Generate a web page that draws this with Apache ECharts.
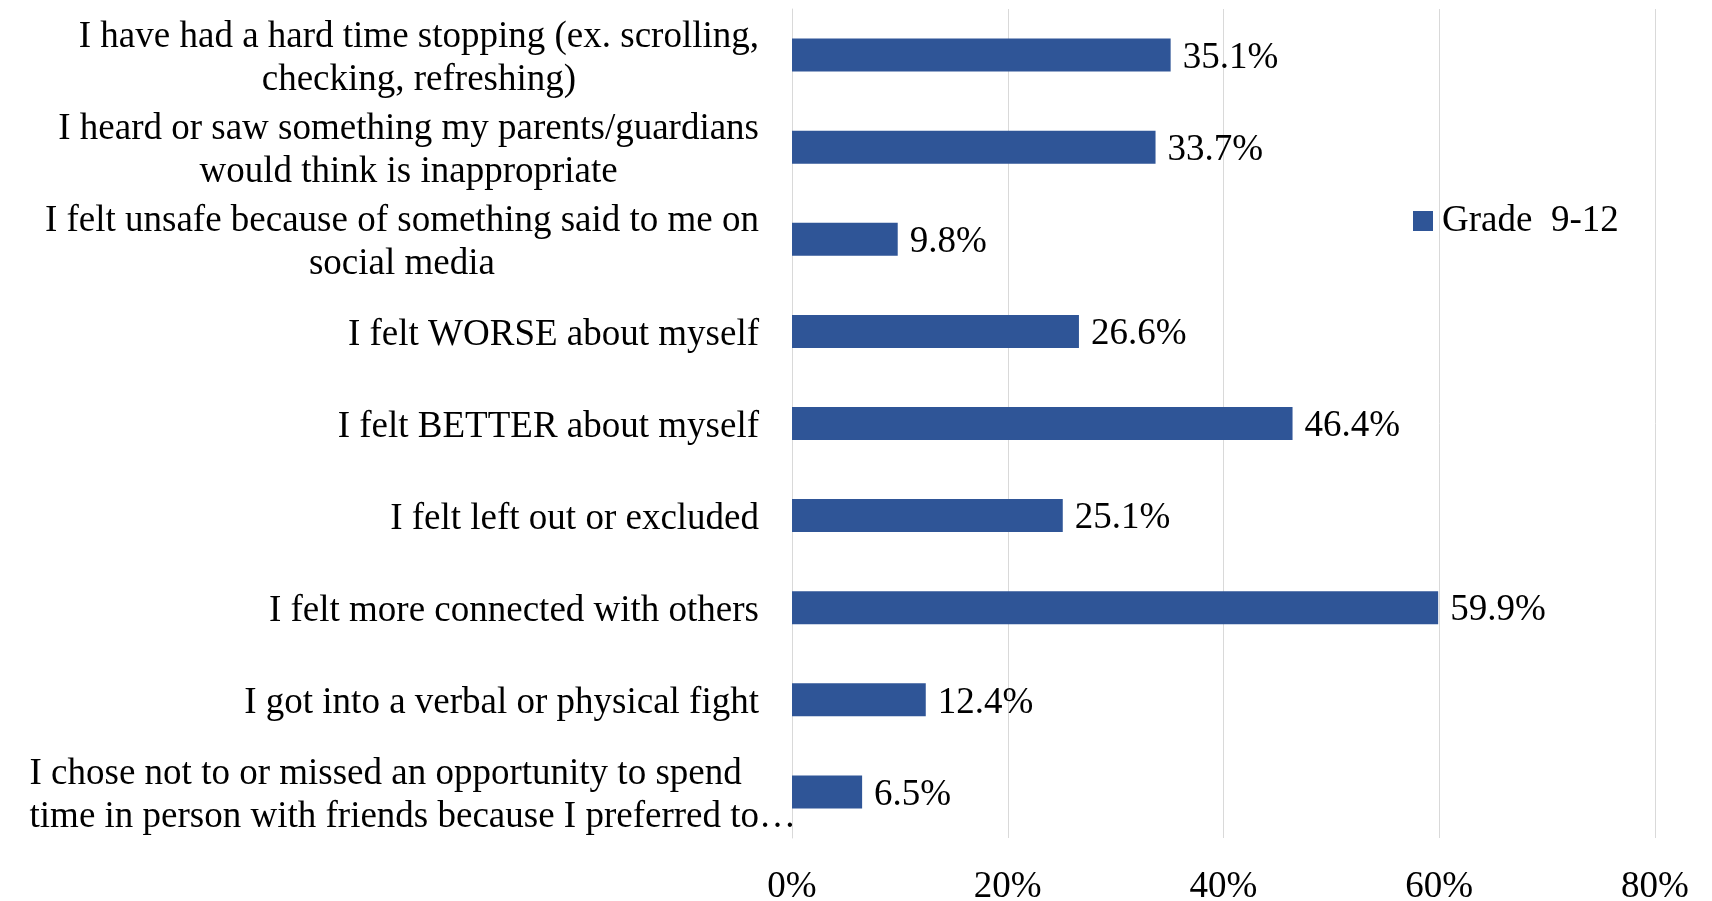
<!DOCTYPE html>
<html>
<head>
<meta charset="utf-8">
<title>Social media experiences, Grade 9-12</title>
<script src="https://cdn.jsdelivr.net/npm/echarts@6/dist/echarts.min.js"></script>
<style>
  html, body { margin: 0; padding: 0; background: #ffffff; }
  #chart { width: 1712px; height: 901px; }
</style>
</head>
<body>
<div id="chart"></div>
<script>
// Survey statements, listed top to bottom
const categories = [
  'I have had a hard time stopping (ex. scrolling,\nchecking, refreshing)',
  'I heard or saw something my parents/guardians\nwould think is inappropriate',
  'I felt unsafe because of something said to me on\nsocial media',
  'I felt WORSE about myself',
  'I felt BETTER about myself',
  'I felt left out or excluded',
  'I felt more connected with others',
  'I got into a verbal or physical fight',
  'I chose not to or missed an opportunity to spend\ntime in person with friends because I preferred to\u2026'
];

// Share of students (%) for each statement
const seriesName = 'Grade  9-12';
const values = [35.1, 33.7, 9.8, 26.6, 46.4, 25.1, 59.9, 12.4, 6.5];

// Percentage axis
const axisMin = 0;
const axisMax = 80;
const axisStep = 20;

const FONT = '"Liberation Serif", "DejaVu Serif", serif';
const BAR = '#2F5597';
const GRID = '#D9D9D9';

const chart = echarts.init(document.getElementById('chart'), null, { renderer: 'canvas' });

const lastIndex = categories.length - 1;

// The long, cut-off statement runs a little past the axis line, left-aligned
const categoryItems = categories.map(function (name, i) {
  if (i !== lastIndex) return name;
  return { value: name, textStyle: { padding: [7, -37, 0, 0] } };
});

chart.setOption({
  animation: false,
  backgroundColor: '#ffffff',
  textStyle: { fontFamily: FONT },
  grid: {
    left: 792, right: 57, top: 9, bottom: 63,
    containLabel: false,
    outerBoundsMode: 'none'
  },
  legend: {
    data: [seriesName],
    left: 1413,
    top: 201,
    padding: 0,
    icon: 'rect',
    itemWidth: 20,
    itemHeight: 20,
    textStyle: {
      fontFamily: FONT, fontSize: 37, color: '#000000',
      lineHeight: 40, padding: [0, 0, 0, 4]
    }
  },
  xAxis: {
    type: 'value',
    min: axisMin,
    max: axisMax,
    interval: axisStep,
    axisLine: { show: false },
    axisTick: { show: false },
    splitLine: { show: true, lineStyle: { color: GRID, width: 1 } },
    axisLabel: {
      formatter: '{value}%',
      fontFamily: FONT,
      fontSize: 37,
      color: '#000000',
      margin: 31
    }
  },
  yAxis: {
    type: 'category',
    inverse: true,
    data: categoryItems,
    axisLine: { show: true, lineStyle: { color: GRID, width: 1 } },
    axisTick: { show: false },
    axisLabel: {
      margin: 33,
      interval: 0,
      fontFamily: FONT,
      fontSize: 37,
      color: '#000000',
      lineHeight: 43,
      padding: [7, 0, 0, 0],
      formatter: function (text, idx) {
        const tag = idx === lastIndex ? 'l' : 'c';
        return text.split('\n').map(function (line) {
          return '{' + tag + '|' + line + '}';
        }).join('\n');
      },
      rich: {
        c: { align: 'center', fontFamily: FONT, fontSize: 37, lineHeight: 43, color: '#000000' },
        l: { align: 'left', fontFamily: FONT, fontSize: 37, lineHeight: 43, color: '#000000' }
      }
    }
  },
  series: [{
    name: seriesName,
    type: 'bar',
    data: values,
    barWidth: 33,
    itemStyle: { color: BAR },
    label: {
      show: true,
      position: 'right',
      distance: 12,
      offset: [0, 3],
      fontFamily: FONT,
      fontSize: 37,
      color: '#000000',
      formatter: function (p) { return p.value.toFixed(1) + '%'; }
    }
  }]
});
</script>
</body>
</html>
